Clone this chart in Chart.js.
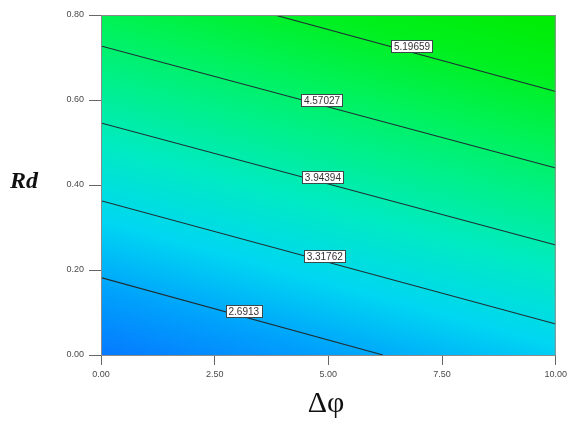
<!DOCTYPE html>
<html>
<head>
<meta charset="utf-8">
<script src="https://cdn.jsdelivr.net/npm/chart.js@4.4.1/dist/chart.umd.min.js"></script>
<style>
  html, body { margin: 0; padding: 0; background: #ffffff; }
  #wrap { width: 571px; height: 421px; position: relative; }
</style>
</head>
<body>
<div id="wrap"><canvas id="c" width="571" height="421"></canvas></div>
<script>
// ---- data ----
const xTicks = [0, 2.5, 5, 7.5, 10];
const yTicks = [0, 0.2, 0.4, 0.6, 0.8];
const contourLevels = ['2.6913', '3.31762', '3.94394', '4.57027', '5.19659'];
// contour line end points (Δφ, Rd)
const lineStartX = [0, 0, 0, 0, 3.82];
const lineStartY = [0.182, 0.363, 0.546, 0.727, 0.8];
const lineEndX   = [6.2, 10, 10, 10, 10];
const lineEndY   = [0, 0.073, 0.259, 0.44, 0.62];
// label positions (Δφ, Rd)
const labelX = [3.14, 4.92, 4.88, 4.86, 6.84];
const labelY = [0.1035, 0.233, 0.419, 0.6, 0.726];
// colour map for the response surface
const colorLevels = [2.05, 2.6, 3.15, 3.75, 4.3, 4.8, 5.3, 5.85];
const colorValues = ['rgb(6,120,255)', 'rgb(0,162,252)', 'rgb(0,214,242)', 'rgb(0,234,196)',
                     'rgb(0,240,138)', 'rgb(0,242,84)', 'rgb(0,240,30)', 'rgb(0,236,0)'];

const datasets = contourLevels.map((lv, i) => ({
  label: lv,
  data: [{x: lineStartX[i], y: lineStartY[i]}, {x: lineEndX[i], y: lineEndY[i]}],
  showLine: true,
  borderColor: '#1e2e34',
  borderWidth: 1.1,
  pointRadius: 0,
  fill: false
}));

const surfacePlugin = {
  id: 'surface',
  beforeDatasetsDraw(chart) {
    const {ctx, chartArea: a, scales: {x, y}} = chart;
    const n0 = contourLevels.length - 1;
    const p0 = {x: x.getPixelForValue(lineStartX[0]), y: y.getPixelForValue(lineStartY[0])};
    const p1 = {x: x.getPixelForValue(lineEndX[0]), y: y.getPixelForValue(lineEndY[0])};
    let dx = p1.x - p0.x, dy = p1.y - p0.y;
    const len = Math.hypot(dx, dy); dx /= len; dy /= len;
    const nx = dy, ny = -dx; // normal pointing to increasing response
    const pB = {x: x.getPixelForValue(lineStartX[n0]), y: y.getPixelForValue(lineStartY[n0])};
    const dB = (pB.x - p0.x) * nx + (pB.y - p0.y) * ny;
    const zA = parseFloat(contourLevels[0]), zB = parseFloat(contourLevels[n0]);
    const zmin = colorLevels[0], zmax = colorLevels[colorLevels.length - 1];
    const s0 = dB * (zmin - zA) / (zB - zA), s1 = dB * (zmax - zA) / (zB - zA);
    const g = ctx.createLinearGradient(p0.x + nx * s0, p0.y + ny * s0, p0.x + nx * s1, p0.y + ny * s1);
    colorLevels.forEach((z, i) => g.addColorStop((z - zmin) / (zmax - zmin), colorValues[i]));
    ctx.save();
    ctx.fillStyle = g;
    ctx.fillRect(a.left, a.top, a.right - a.left, a.bottom - a.top);
    ctx.restore();
  },
  afterDatasetsDraw(chart) {
    const {ctx, chartArea: a, scales: {x, y}} = chart;
    ctx.save();
    ctx.font = '10px "Liberation Sans", Arial, sans-serif';
    ctx.textAlign = 'center';
    ctx.textBaseline = 'middle';
    contourLevels.forEach((lv, i) => {
      const cx = x.getPixelForValue(labelX[i]);
      const cy = y.getPixelForValue(labelY[i]);
      const w = ctx.measureText(lv).width + 5;
      const h = 12;
      ctx.fillStyle = '#ffffff';
      ctx.fillRect(Math.round(cx - w / 2) + 0.5, Math.round(cy - h / 2) + 0.5, Math.round(w), h);
      ctx.strokeStyle = '#3a4a4a';
      ctx.lineWidth = 1;
      ctx.strokeRect(Math.round(cx - w / 2) + 0.5, Math.round(cy - h / 2) + 0.5, Math.round(w), h);
      ctx.fillStyle = '#333333';
      ctx.fillText(lv, cx, cy + 1);
    });
    // plot frame
    ctx.strokeStyle = '#8a8a8a';
    ctx.lineWidth = 1;
    ctx.strokeRect(a.left + 0.5, a.top + 0.5, a.right - a.left - 1, a.bottom - a.top);
    ctx.restore();
  },
  afterDraw(chart) {
    const {ctx} = chart;
    ctx.save();
    ctx.fillStyle = '#111111';
    ctx.textAlign = 'center';
    ctx.textBaseline = 'alphabetic';
    ctx.font = 'italic bold 24px "Liberation Serif", "Times New Roman", serif';
    ctx.fillText('Rd', 24, 188);
    ctx.font = '30px "Liberation Serif", "Times New Roman", serif';
    ctx.fillText('Δφ', 326, 412);
    ctx.restore();
  }
};

new Chart(document.getElementById('c'), {
  type: 'scatter',
  data: { datasets },
  options: {
    responsive: false,
    animation: false,
    layout: { padding: { top: 15, right: 15, left: 0, bottom: 0 } },
    plugins: { legend: { display: false }, tooltip: { enabled: false } },
    scales: {
      x: {
        type: 'linear', min: 0, max: 10,
        afterBuildTicks: s => { s.ticks = xTicks.map(v => ({value: v})); },
        afterFit: s => { s.height = 66; },
        grid: { drawOnChartArea: false, drawTicks: true, tickLength: 10, color: '#666', tickWidth: 1 },
        border: { color: '#555', width: 1 },
        ticks: { color: '#4a4a4a', padding: 4, font: { size: 9, family: '"Liberation Sans", Arial, sans-serif' },
                 callback: v => Number(v).toFixed(2) }
      },
      y: {
        type: 'linear', min: 0, max: 0.8,
        afterBuildTicks: s => { s.ticks = yTicks.map(v => ({value: v})); },
        afterFit: s => { s.width = 101; },
        grid: { drawOnChartArea: false, drawTicks: true, tickLength: 12, color: '#666', tickWidth: 1 },
        border: { color: '#555', width: 1 },
        ticks: { color: '#4a4a4a', padding: 5, font: { size: 9, family: '"Liberation Sans", Arial, sans-serif' },
                 callback: v => Number(v).toFixed(2) }
      }
    }
  },
  plugins: [surfacePlugin]
});
</script>
</body>
</html>
